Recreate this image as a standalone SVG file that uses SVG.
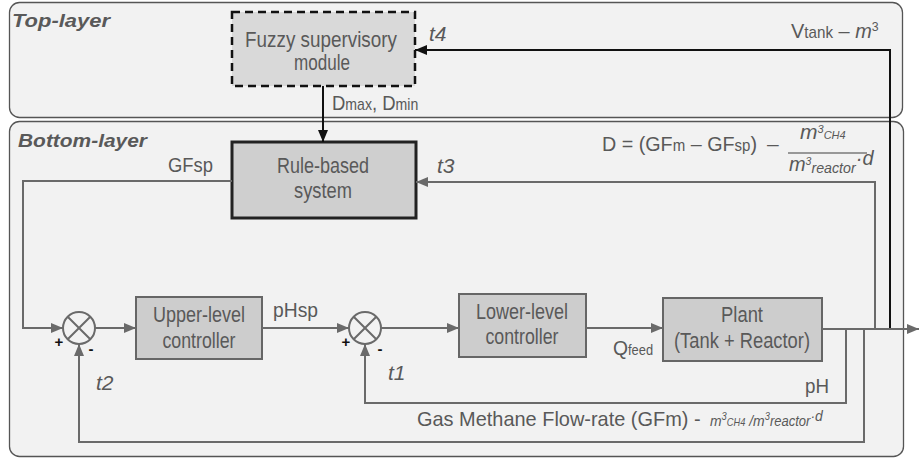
<svg xmlns="http://www.w3.org/2000/svg" width="919" height="459" viewBox="0 0 919 459">
<defs>
<style>
text{font-family:"Liberation Sans Narrow","Arial Narrow","Liberation Sans",Arial,sans-serif;fill:#595959;}
.lbl{font-size:21px;}
.box{font-size:22px;text-anchor:middle;}
.it{font-style:italic;}
.layer{font-size:18px;font-weight:bold;font-style:italic;font-family:"Liberation Sans",Arial,sans-serif;}
.panel{fill:#f2f2f2;stroke:#555;stroke-width:1.3;}
.blk{fill:#cdcdcd;stroke:#666;stroke-width:2;}
.g{fill:none;stroke:#6a6a6a;stroke-width:2;}
.k{fill:none;stroke:#111;stroke-width:2;}
.sign{font-family:"Liberation Sans",Arial,sans-serif;font-size:15px;font-weight:bold;fill:#111;}
</style>
<marker id="ag" markerWidth="12" markerHeight="10" refX="12" refY="5" orient="auto" markerUnits="userSpaceOnUse"><path d="M0,0 L12,5 L0,10 Z" fill="#6a6a6a"/></marker>
<marker id="ak" markerWidth="12" markerHeight="10" refX="12" refY="5" orient="auto" markerUnits="userSpaceOnUse"><path d="M0,0 L12,5 L0,10 Z" fill="#111"/></marker>
</defs>

<g id="top-layer">
<rect class="panel" x="9.5" y="2.5" width="893" height="115" rx="10"/>
<text class="layer" x="12" y="27" textLength="98" lengthAdjust="spacingAndGlyphs">Top-layer</text>
</g>
<g id="bottom-layer">
<rect class="panel" x="9.5" y="121.5" width="894" height="335" rx="10"/>
<text class="layer" x="18" y="147" textLength="129" lengthAdjust="spacingAndGlyphs">Bottom-layer</text>
</g>

<g id="fuzzy">
<rect x="232" y="12" width="183" height="74" fill="#d9d9d9" stroke="#111" stroke-width="2.5" stroke-dasharray="8,5"/>
<text class="box" x="321" y="47" textLength="152" lengthAdjust="spacingAndGlyphs">Fuzzy supervisory</text>
<text class="box" x="322" y="70" textLength="56" lengthAdjust="spacingAndGlyphs">module</text>
</g>

<g id="rule">
<rect x="232" y="142" width="184" height="76" fill="#cfcfcf" stroke="#222" stroke-width="3"/>
<text class="box" x="323" y="173" textLength="92" lengthAdjust="spacingAndGlyphs">Rule-based</text>
<text class="box" x="323" y="198" textLength="58" lengthAdjust="spacingAndGlyphs">system</text>
</g>

<g id="upper">
<rect class="blk" x="136" y="297" width="126" height="62"/>
<text class="box" x="199" y="322" textLength="92" lengthAdjust="spacingAndGlyphs">Upper-level</text>
<text class="box" x="199" y="348" textLength="73" lengthAdjust="spacingAndGlyphs">controller</text>
</g>

<g id="lower">
<rect class="blk" x="459" y="294" width="127" height="63"/>
<text class="box" x="522" y="319" textLength="92" lengthAdjust="spacingAndGlyphs">Lower-level</text>
<text class="box" x="522" y="344" textLength="73" lengthAdjust="spacingAndGlyphs">controller</text>
</g>

<g id="plant">
<rect class="blk" x="663" y="298" width="159" height="63"/>
<text class="box" x="742" y="322" textLength="42" lengthAdjust="spacingAndGlyphs">Plant</text>
<text class="box" x="742" y="348" textLength="136" lengthAdjust="spacingAndGlyphs">(Tank + Reactor)</text>
</g>

<g id="sum1">
<circle cx="79" cy="328" r="16" fill="#f2f2f2" stroke="#6a6a6a" stroke-width="2"/>
<path class="g" d="M67.7,316.7 L90.3,339.3 M90.3,316.7 L67.7,339.3"/>
<text class="sign" x="59" y="347" text-anchor="middle">+</text>
<text class="sign" x="91" y="354" text-anchor="middle">-</text>
</g>
<g id="sum2">
<circle cx="365" cy="328" r="16" fill="#f2f2f2" stroke="#6a6a6a" stroke-width="2"/>
<path class="g" d="M353.7,316.7 L376.3,339.3 M376.3,316.7 L353.7,339.3"/>
<text class="sign" x="346" y="347" text-anchor="middle">+</text>
<text class="sign" x="380" y="354" text-anchor="middle">-</text>
</g>

<g id="connectors">
<path class="k" d="M323,86 V142" marker-end="url(#ak)"/>
<path class="k" d="M890,329 V50 H415" marker-end="url(#ak)"/>
<path class="g" d="M875,329 V182 H416" marker-end="url(#ag)"/>
<path class="g" d="M232,181 H23 V328 H63" marker-end="url(#ag)"/>
<path class="g" d="M95,328 H136" marker-end="url(#ag)"/>
<path class="g" d="M262,328 H349" marker-end="url(#ag)"/>
<path class="g" d="M381,328 H459" marker-end="url(#ag)"/>
<path class="g" d="M586,328 H663" marker-end="url(#ag)"/>
<path class="g" d="M822,329 H919" marker-end="url(#ag)"/>
<path class="g" d="M846,329 V403 H365 V344" marker-end="url(#ag)"/>
<path class="g" d="M864,329 V442 H79 V344" marker-end="url(#ag)"/>
</g>

<g id="labels">
<text class="lbl" transform="translate(332,110) scale(0.88,1)">D<tspan font-size="16">max</tspan>, D<tspan font-size="16">min</tspan></text>
<text class="lbl it" x="429" y="41">t4</text>
<text class="lbl" transform="translate(791,38) scale(0.95,1)">V<tspan font-size="16">tank</tspan> – <tspan font-style="italic">m</tspan><tspan font-size="13" dy="-7">3</tspan></text>
<text class="lbl" x="168" y="172" textLength="45" lengthAdjust="spacingAndGlyphs">GFsp</text>
<text class="lbl it" x="437" y="173">t3</text>
<text class="lbl" transform="translate(602,151) scale(0.94,1)">D = (GF<tspan font-size="16">m</tspan> – GF<tspan font-size="16">sp</tspan>)</text>
<text class="lbl" x="767" y="151">–</text>
<text class="lbl it" x="800" y="139" font-size="17">m<tspan font-size="11" dy="-6">3</tspan><tspan font-size="11" dy="6">CH4</tspan></text>
<path d="M788,153 H867" stroke="#7a7a7a" stroke-width="1.5"/>
<text class="lbl it" transform="translate(789,171) scale(0.95,1)" font-size="17">m<tspan font-size="11" dy="-6">3</tspan><tspan font-size="15" dy="8">reactor</tspan><tspan dy="-8">·d</tspan></text>
<text class="lbl" x="273" y="317" textLength="45" lengthAdjust="spacingAndGlyphs">pHsp</text>
<text class="lbl" transform="translate(613,355) scale(0.92,1)">Q<tspan font-size="14">feed</tspan></text>
<text class="lbl it" x="96" y="390">t2</text>
<text class="lbl it" x="388" y="380">t1</text>
<text class="lbl" x="805" y="393" textLength="24" lengthAdjust="spacingAndGlyphs">pH</text>
<text class="lbl" transform="translate(417,426) scale(0.95,1)" font-size="20">Gas Methane Flow-rate  (GFm) -</text>
<text class="it" transform="translate(710,426) scale(0.93,1)" font-size="15">m<tspan font-size="10" dy="-6">3</tspan><tspan font-size="10" dy="6">CH4</tspan> /m<tspan font-size="10" dy="-6">3</tspan><tspan font-size="14" dy="6">reactor</tspan><tspan dy="-5">·d</tspan></text>
</g>
</svg>
